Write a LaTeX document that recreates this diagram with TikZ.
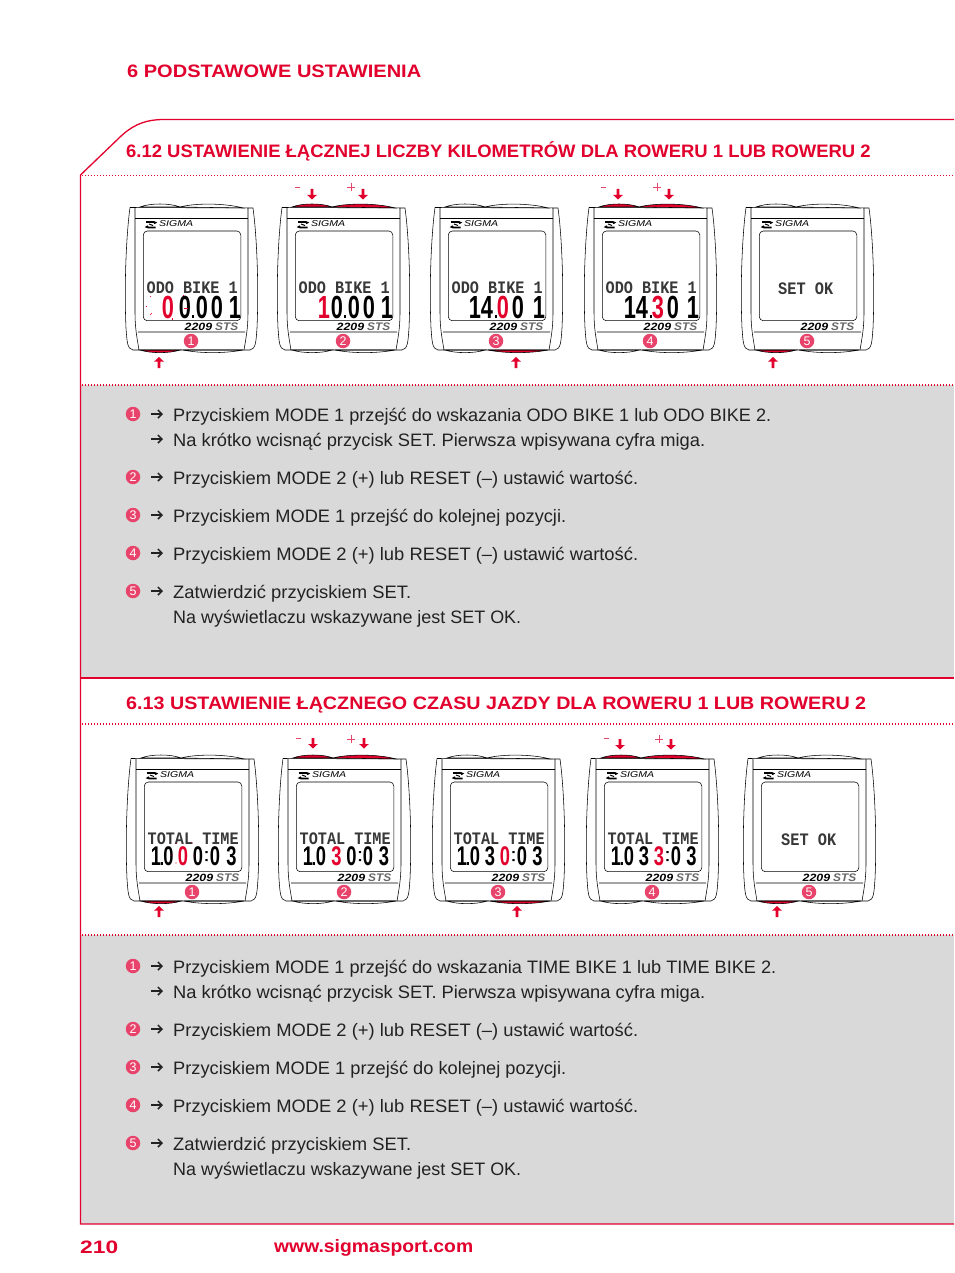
\documentclass[tikz,border=0pt]{standalone}
\usepackage{graphicx}
\usepackage{fontspec}
\setmainfont{Liberation Sans}
\newfontfamily\lcdfont{Liberation Mono}
\usetikzlibrary{arrows.meta}
\definecolor{sred}{HTML}{E2012D}
\definecolor{pinkc}{HTML}{E8436A}
\definecolor{panel}{HTML}{D9D9D9}
\definecolor{ink}{HTML}{222222}
\newcommand\fsz[1]{\fontsize{#1}{#1}\selectfont}
\newcommand\fit[2]{\resizebox{#1pt}{\height}{#2}}
% text helpers
\newcommand\ttl[4]{\node[txt,text=sred,font=\bfseries\fsz{#4}] at (#1,#2) {#3};}
\newcommand\bodyline[3]{\node[txt,text=ink,font=\fsz{18}] at (173,#1) {\fit{#2}{#3}};}
\newcommand\bul[1]{\draw[line width=1.5pt,ink,-{Straight Barb[length=4pt,width=8pt]}] (151,#1) -- (163,#1);}
\newcommand\numc[3]{\node[numdot] at (#1,#2) {#3};}
% pointers
\newcommand\uparr[2]{\fill[sred,shift={(#1,#2)}] (-1.3,11)--(-1.3,4.5)--(-4.8,4.5)--(0,0)--(4.8,4.5)--(1.3,4.5)--(1.3,11)--cycle;}
\newcommand\dnarr[2]{\fill[sred,shift={(#1,#2)}] (-1.3,0)--(-1.3,6)--(-4.8,6)--(0,10.5)--(4.8,6)--(1.3,6)--(1.3,0)--cycle;}
\newcommand\mns[2]{\draw[pinkc,line width=.9pt] (#1-2.5,#2) -- (#1+2.5,#2);}
\newcommand\pls[2]{\draw[pinkc,line width=.9pt] (#1-4,#2) -- (#1+4,#2) (#1,#2-4) -- (#1,#2+4);}
% digits
\def\dy{115}\def\dsz{32}
\newcommand\dg[3]{\node[anchor=base,inner sep=0pt,text=#1,font=\bfseries\fsz{\dsz}] at (#2,\dy) {\scalebox{.68}[1]{#3}};}
\newcommand\dotpt[1]{\fill[black] (#1-1,\dy-3) rectangle (#1+1,\dy);}
\newcommand\colonpt[1]{\fill[black] (#1-1.1,\dy-6) rectangle (#1+1.1,\dy-4) (#1-1.1,\dy-14) rectangle (#1+1.1,\dy-12);}
\newcommand\lcdline[2]{\node[anchor=base west,inner sep=0pt,text=black!78,font=\lcdfont\bfseries\fsz{17.5}] at (21.5,#1) {\fit{91}{#2}};}
\newcommand\rowA{\def\dy{115}\def\dsz{32}}
\newcommand\rowB{\def\dy{111}\def\dsz{27}}
% device: x, y, TL, TR, BL, BR, number, display
\newcommand\device[8]{%
\begin{scope}[shift={(#1,#2)}]
  \draw[dev,fill=#3] (15,4) .. controls (25,0) and (45,0) .. (55,4) -- cycle;
  \draw[dev,fill=#4] (55,4) .. controls (70,0) and (100,0) .. (118,5) -- cycle;
  \draw[dev,fill=#5] (15,147) .. controls (25,150.5) and (45,150.5) .. (55,147) -- cycle;
  \draw[dev,fill=#6] (58,147) .. controls (75,150.5) and (100,150.5) .. (118,147) -- cycle;
  \draw[dev] (5,4.5) -- (128,5)
             (5,4.5) .. controls (1.5,30) and (-1,80) .. (1,125) .. controls (2,138) and (2,146) .. (8,147) -- (125,147)
                     .. controls (131,146) and (131,138) .. (132,125) .. controls (134,80) and (131.5,30) .. (128,5);
  \draw[dev] (10,5) -- (10,110) .. controls (10,125) and (12,135) .. (14,147)
             (123,5) -- (123,110) .. controls (123,125) and (121,135) .. (119,147)
             (10,15.5) -- (123,15.5)
             (13,129) -- (120,129);
  \draw[dev,rounded corners=4pt] (18.3,28) rectangle (115.8,117.7);
  % logo
  \draw[black,line width=1.6pt] (21,19) -- (29,19) .. controls (31,19) and (31,20) .. (29,20.5)  (30.5,24.5) -- (23,24.5) .. controls (21,24.5) and (21,23.5) .. (23,23);
  \draw[black,line width=1pt] (24,21) -- (28,22.5);
  \node[anchor=base west,inner sep=0pt,font=\itshape\fsz{8.5}] at (34,23.7) {\fit{34}{SIGMA}};
  \node[anchor=base west,inner sep=0pt,font=\bfseries\itshape\fsz{10.5}] at (59.5,127.5) {\fit{27.5}{2209}};
  \node[anchor=base west,inner sep=0pt,text=black!60,font=\bfseries\itshape\fsz{11}] at (90,127.5) {\fit{23}{STS}};
  \numc{66}{138}{#7}
  #8
\end{scope}}
\tikzset{
  txt/.style={anchor=base west,inner sep=0pt},
  dev/.style={black,line width=.55pt},
  numdot/.style={circle,fill=pinkc,text=white,inner sep=0pt,minimum size=14.5pt,font=\fsz{12.5}},
  dotline/.style={sred,line width=1.2pt,dash pattern=on 1.2pt off 1.8pt},
  frame/.style={sred,line width=1.3pt}
}
\begin{document}
\begin{tikzpicture}[x=1pt,y=-1pt]
\useasboundingbox (0,0) rectangle (954,1273);
\fill[white] (0,0) rectangle (954,1273);
\fill[panel] (80,385) rectangle (954,678);
\fill[panel] (80,935) rectangle (954,1224);
% frame
\draw[frame] (954,119.5) -- (162,119.5) .. controls (142,120) and (130,127) .. (118,139) -- (80.5,175) -- (80.5,1224) -- (954,1224);
\draw[frame] (80.5,678) -- (954,678);
\foreach \yy in {175.5,385,724,935} \draw[dotline] (82,\yy) -- (954,\yy);
% headings
\ttl{127}{78}{\fit{294}{6 PODSTAWOWE USTAWIENIA}}{18}
\ttl{126}{157.5}{\fit{744.5}{6.12 USTAWIENIE ŁĄCZNEJ LICZBY KILOMETRÓW DLA ROWERU 1 LUB ROWERU 2}}{18}
\ttl{126}{709}{\fit{740}{6.13 USTAWIENIE ŁĄCZNEGO CZASU JAZDY DLA ROWERU 1 LUB ROWERU 2}}{18}
\ttl{80}{1253}{\fit{38}{210}}{18}
\ttl{274}{1252.5}{\fit{199}{www.sigmasport.com}}{18}
% row 1
\rowA
\device{125}{203}{white}{white}{sred}{white}{1}{
  \lcdline{90}{ODO BIKE 1}
  \dg{sred}{43}{0}\dg{black}{60}{0}\dotpt{68}\dg{black}{77}{0}\dg{black}{92}{0}\dg{black}{110}{1}
  \foreach \a/\b/\c/\d in {25/93/26/94,21/103/22/103,27/110/25/112,47/115/47/117,58/92/59/92,59/105/63/105} \draw[sred,line width=.6pt] (\a,\b) -- (\c,\d);
}
\device{277}{203}{sred}{sred}{white}{white}{2}{
  \lcdline{90}{ODO BIKE 1}
  \dg{sred}{47}{1}\dg{black}{60}{0}\dotpt{68}\dg{black}{77}{0}\dg{black}{92}{0}\dg{black}{110}{1}
}
\device{430}{203}{white}{white}{white}{sred}{3}{
  \lcdline{90}{ODO BIKE 1}
  \dg{black}{45}{1}\dg{black}{57}{4}\dotpt{65.5}\dg{sred}{73}{0}\dg{black}{88}{0}\dg{black}{109}{1}
}
\device{584}{203}{sred}{sred}{white}{white}{4}{
  \lcdline{90}{ODO BIKE 1}
  \dg{black}{46}{1}\dg{black}{58}{4}\dotpt{66.5}\dg{sred}{74}{3}\dg{black}{89}{0}\dg{black}{109}{1}
}
\device{741}{203}{white}{white}{sred}{white}{5}{
  \node[anchor=base west,inner sep=0pt,text=black!78,font=\lcdfont\bfseries\fsz{17.5}] at (37,91) {\fit{55}{SET OK}};
}
\uparr{159}{357}\uparr{516}{357}\uparr{773}{357}
\mns{297}{187}\dnarr{312}{189}\pls{351}{187}\dnarr{363}{189}
\mns{603}{187}\dnarr{618}{189}\pls{657}{187}\dnarr{669}{189}
% row 2
\rowB
\device{126}{754}{white}{white}{sred}{white}{1}{
  \lcdline{90}{TOTAL TIME}
  \dg{black}{30}{1}\dotpt{36}\dg{black}{42.5}{0}\dg{sred}{57}{0}\dg{black}{72}{0}\colonpt{80.5}\dg{black}{89}{0}\dg{black}{105.5}{3}
  \foreach \a/\b in {46/101,50/89,66/89,68/102,50/109} \fill[sred] (\a,\b) circle (.6);
}
\device{278}{754}{sred}{sred}{white}{white}{2}{
  \lcdline{90}{TOTAL TIME}
  \dg{black}{30}{1}\dotpt{36}\dg{black}{43}{0}\dg{sred}{58.5}{3}\dg{black}{73.5}{0}\colonpt{82}\dg{black}{90}{0}\dg{black}{106}{3}
}
\device{432}{754}{white}{white}{white}{sred}{3}{
  \lcdline{90}{TOTAL TIME}
  \dg{black}{30}{1}\dotpt{36}\dg{black}{43}{0}\dg{black}{58}{3}\dg{sred}{73}{0}\colonpt{81.5}\dg{black}{90}{0}\dg{black}{105.5}{3}
}
\device{586}{754}{sred}{sred}{white}{white}{4}{
  \lcdline{90}{TOTAL TIME}
  \dg{black}{30}{1}\dotpt{36}\dg{black}{43}{0}\dg{black}{58}{3}\dg{sred}{73}{3}\colonpt{81.5}\dg{black}{90}{0}\dg{black}{105.5}{3}
}
\device{743}{754}{white}{white}{sred}{white}{5}{
  \node[anchor=base west,inner sep=0pt,text=black!78,font=\lcdfont\bfseries\fsz{17.5}] at (38,91) {\fit{55}{SET OK}};
}
\uparr{159}{906}\uparr{517}{906}\uparr{777}{906}
\mns{298}{738}\dnarr{313}{738}\pls{351}{739}\dnarr{364}{738}
\mns{606}{738}\dnarr{620}{739}\pls{659}{739}\dnarr{671}{739}
% instructions 1
\numc{133}{414}{1}\bul{414}\bodyline{421}{598}{Przyciskiem MODE 1 przejść do wskazania ODO BIKE 1 lub ODO BIKE 2.}
\bul{439}\bodyline{446}{532}{Na krótko wcisnąć przycisk SET. Pierwsza wpisywana cyfra miga.}
\numc{133}{477}{2}\bul{477}\bodyline{484}{465}{Przyciskiem MODE 2 (+) lub RESET (–) ustawić wartość.}
\numc{133}{515}{3}\bul{515}\bodyline{522}{393}{Przyciskiem MODE 1 przejść do kolejnej pozycji.}
\numc{133}{553}{4}\bul{553}\bodyline{560}{465}{Przyciskiem MODE 2 (+) lub RESET (–) ustawić wartość.}
\numc{133}{591}{5}\bul{591}\bodyline{598}{238}{Zatwierdzić przyciskiem SET.}
\bodyline{623}{348}{Na wyświetlaczu wskazywane jest SET OK.}
% instructions 2
\numc{133}{966}{1}\bul{966}\bodyline{973}{603}{Przyciskiem MODE 1 przejść do wskazania TIME BIKE 1 lub TIME BIKE 2.}
\bul{991}\bodyline{998}{532}{Na krótko wcisnąć przycisk SET. Pierwsza wpisywana cyfra miga.}
\numc{133}{1029}{2}\bul{1029}\bodyline{1036}{465}{Przyciskiem MODE 2 (+) lub RESET (–) ustawić wartość.}
\numc{133}{1067}{3}\bul{1067}\bodyline{1074}{393}{Przyciskiem MODE 1 przejść do kolejnej pozycji.}
\numc{133}{1105}{4}\bul{1105}\bodyline{1112}{465}{Przyciskiem MODE 2 (+) lub RESET (–) ustawić wartość.}
\numc{133}{1143}{5}\bul{1143}\bodyline{1150}{238}{Zatwierdzić przyciskiem SET.}
\bodyline{1175}{348}{Na wyświetlaczu wskazywane jest SET OK.}
\end{tikzpicture}
\end{document}
